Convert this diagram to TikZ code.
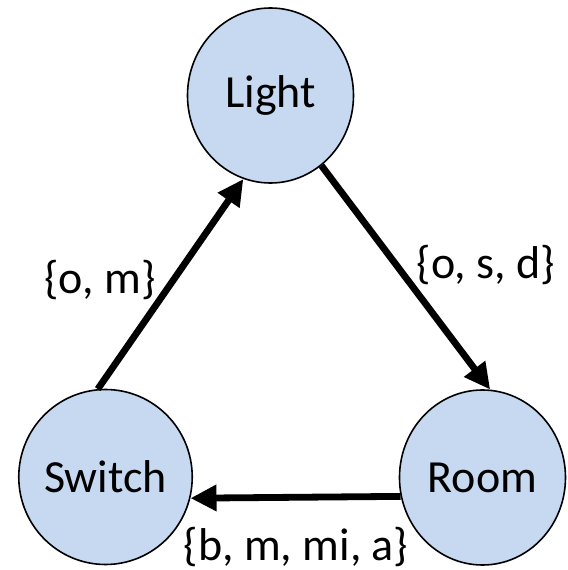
\documentclass[tikz,border=0pt]{standalone}
\usepackage{fontspec}
\setmainfont{Carlito}
\usetikzlibrary{arrows.meta,shapes.geometric}
\definecolor{statefill}{RGB}{198,217,241}

\begin{document}
\begin{tikzpicture}[x=0.5pt,y=0.5pt,>={Triangle[length=13pt,width=12.5pt]},
    state/.style={ellipse,draw,line width=0.8pt,fill=statefill,inner sep=0pt,
                  minimum width=83pt,minimum height=87.5pt,font=\fontsize{23}{28}\selectfont},
    rel/.style={font=\fontsize{23}{28}\selectfont,inner sep=0pt},
    link/.style={->,line width=3.4pt}]
  \useasboundingbox (0,0) rectangle (568,570);
  % the three objects
  \node[state] (light)  at (270.5,474.5) {Light};
  \node[state] (switch) at (105.5,93)    {Switch};
  \node[state] (room)   at (482.5,92.5)  {Room};
  % relations between them
  \draw[link] (switch.95.6) -- (light.252.5);
  \draw[link] (light.306) -- (room.85);
  \draw[link] (room.193.3) -- (switch.346.4);
  \node[rel] (lblSL) at (100,290) {\{o, m\}};
  \node[rel] (lblLR) at (486,305) {\{o, s, d\}};
  \node[rel] (lblRS) at (296,23)  {\{b, m, mi, a\}};
\end{tikzpicture}
\end{document}
